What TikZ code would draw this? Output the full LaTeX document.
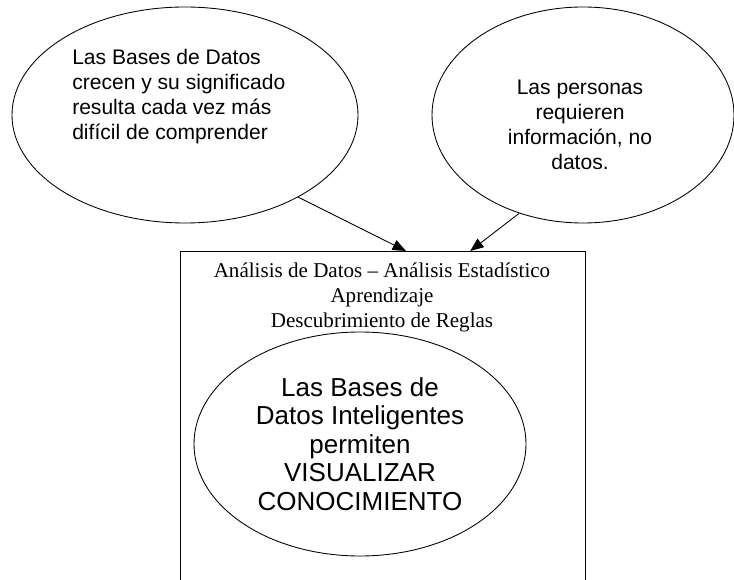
\documentclass[tikz,border=0pt]{standalone}
\usepackage{fontspec}
\setmainfont{Liberation Serif}
\newfontfamily\arialfont{Liberation Sans}
\usetikzlibrary{shapes.geometric,arrows.meta,calc}

\tikzset{
  bubble/.style={draw, ellipse, line width=0.65pt, inner sep=0pt},
  bubbletext/.style={font=\arialfont\fontsize{15.8}{18.75}\selectfont, inner sep=0pt},
  flecha/.style={-{Triangle[length=10pt,width=8pt]}, line width=0.65pt}
}

\begin{document}
\begin{tikzpicture}[x=0.75pt,y=-0.75pt]
\useasboundingbox (0,0) rectangle (734,580);
% ovals
\node[bubble, minimum width=259.5pt, minimum height=162pt] (datos) at (185,115) {};
\node[bubbletext, anchor=north west, align=left] (datostxt) at (72,49) {Las Bases de Datos\\crecen y su significado\\resulta cada vez más\\difícil de comprender};
\node[bubble, minimum width=226.5pt, minimum height=162pt] (personas) at (583,115) {};
\node[bubbletext, anchor=north, align=center] (personastxt) at (580,80) {Las personas\\requieren\\información, no\\datos.};
% box
\node[draw, line width=1.1pt, anchor=north west, minimum width=303.75pt, minimum height=277.5pt, inner sep=0pt] (caja) at (180,251) {};
\node[anchor=north, align=center, inner sep=0pt, font=\fontsize{15.8}{18.75}\selectfont] (cajatxt) at (382,263) {Análisis de Datos – Análisis Estadístico\\Aprendizaje\\Descubrimiento de Reglas};
\node[bubble, minimum width=249pt, minimum height=168pt, align=center, font=\arialfont\fontsize{19.5}{21.4}\selectfont] (inteligentes) at (360,444) {Las Bases de\\Datos Inteligentes\\permiten\\VISUALIZAR\\CONOCIMIENTO};
% arrows
\draw[flecha] (datos.-36) -- ($(caja.north west)!0.556!(caja.north east)$);
\draw[flecha] (personas.-123) -- ($(caja.north west)!0.714!(caja.north east)$);
\end{tikzpicture}
\end{document}
